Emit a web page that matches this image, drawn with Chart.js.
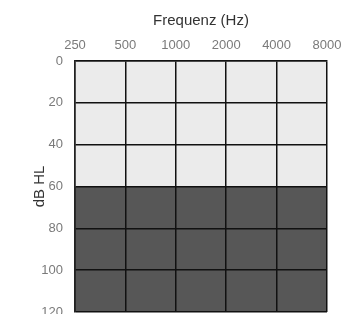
<!DOCTYPE html>
<html>
<head>
<meta charset="utf-8">
<script src="https://cdn.jsdelivr.net/npm/chart.js@4"></script>
<style>
  html, body { margin: 0; padding: 0; background: #fff; overflow: hidden; }
  #wrap { position: relative; width: 342px; height: 314px; }
</style>
</head>
<body>
<div id="wrap"><canvas id="audiogram"></canvas></div>
<script>
// frequencies on the top axis (Hz)
const frequencies = [250, 500, 1000, 2000, 4000, 8000];
// dB HL ticks on the left axis
const levelTicks = [0, 20, 40, 60, 80, 100, 120];
// shaded bands: [from, to] in dB HL
const normalBand = [0, 60];
const lossBand = [60, 120];

const edges = [frequencies[0], frequencies[frequencies.length - 1]];
const fontFamily = "'Liberation Sans', Arial, sans-serif";

const ctx = document.getElementById("audiogram");
const chart = new Chart(ctx, {
  type: 'line',
  data: {
    datasets: [
      {
        label: 'normal',
        data: edges.map(f => ({ x: f, y: normalBand[0] })),
        fill: { value: normalBand[1] },
        backgroundColor: '#ebebeb',
        borderWidth: 0,
        pointRadius: 0
      },
      {
        label: 'loss',
        data: edges.map(f => ({ x: f, y: lossBand[1] })),
        fill: { value: lossBand[0] },
        backgroundColor: '#575757',
        borderWidth: 0,
        pointRadius: 0
      }
    ]
  },
  options: {
    responsive: true,
    maintainAspectRatio: false,
    animation: false,
    layout: { padding: { top: 0, left: 0, right: 15, bottom: 2 } },
    plugins: { legend: { display: false }, tooltip: { enabled: false } },
    scales: {
      x: {
        type: 'logarithmic',
        position: 'top',
        min: edges[0],
        max: edges[1],
        afterBuildTicks: axis => { axis.ticks = frequencies.map(v => ({ value: v })); },
        afterFit: axis => { axis.height = 61; axis.paddingLeft = 0; axis.paddingRight = 0; },
        ticks: {
          callback: v => String(v),
          color: '#7a7a7a',
          font: { family: fontFamily, size: 13 },
          maxRotation: 0,
          padding: 8
        },
        grid: { color: '#111', lineWidth: 1.5, drawTicks: false, z: 1 },
        border: { color: '#222', width: 1.5, z: 1 },
        title: {
          display: true,
          text: 'Frequenz (Hz)',
          color: '#333',
          font: { family: fontFamily, size: 15 },
          padding: { top: 12, bottom: 0 }
        }
      },
      y: {
        reverse: true,
        min: levelTicks[0],
        max: levelTicks[levelTicks.length - 1],
        afterBuildTicks: axis => { axis.ticks = levelTicks.map(v => ({ value: v })); },
        afterFit: axis => { axis.width = 75; axis.paddingTop = 0; axis.paddingBottom = 0; },
        ticks: {
          color: '#7a7a7a',
          font: { family: fontFamily, size: 13 },
          padding: 12
        },
        grid: { color: '#111', lineWidth: 1.5, drawTicks: false, z: 1 },
        border: { color: '#222', width: 1.5, z: 1 },
        title: {
          display: true,
          text: 'dB HL',
          color: '#333',
          font: { family: fontFamily, size: 15 },
          padding: { top: 31, bottom: 0 }
        }
      }
    }
  }
});
</script>
</body>
</html>
